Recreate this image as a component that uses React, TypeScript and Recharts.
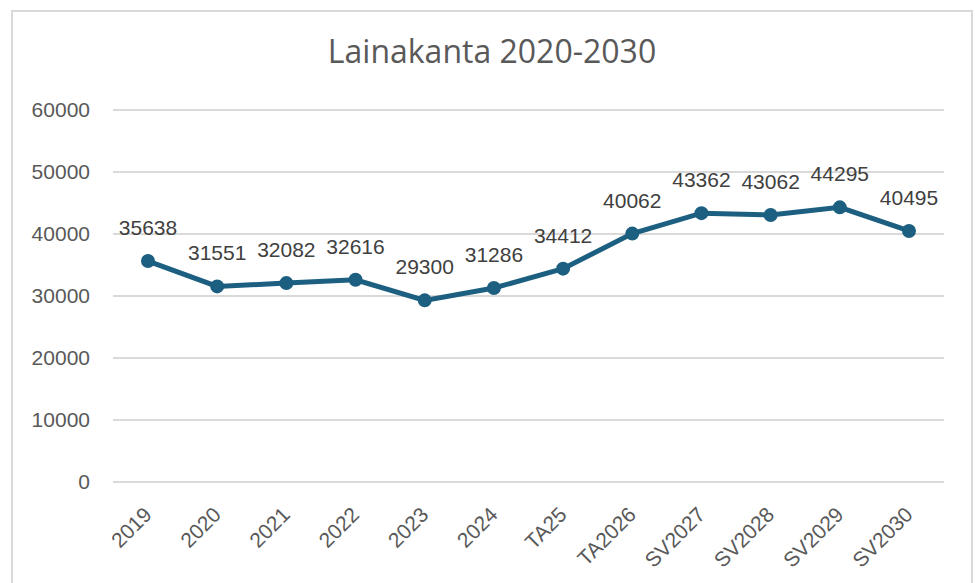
import { LineChart, Line, XAxis, YAxis, CartesianGrid, LabelList } from 'recharts';

const categories = ['2019', '2020', '2021', '2022', '2023', '2024', 'TA25', 'TA2026', 'SV2027', 'SV2028', 'SV2029', 'SV2030'];
const loans = [35638, 31551, 32082, 32616, 29300, 31286, 34412, 40062, 43362, 43062, 44295, 40495];
const yTicks = [0, 10000, 20000, 30000, 40000, 50000, 60000];

const data = categories.map((name, i) => ({ name, value: loans[i] }));

const LINE_COLOR = '#1c5f80';
const FONT = '"Liberation Sans", Arial, sans-serif';

function XTick({ x, y, payload }: any) {
  const tx = x + 5;
  const ty = y + 32;
  return (
    <text
      x={tx}
      y={ty}
      transform={`rotate(-45, ${tx}, ${ty})`}
      textAnchor="end"
      fill="#595959"
      fontSize={21}
      fontFamily={FONT}
    >
      {payload.value}
    </text>
  );
}

function PointLabel({ x, y, value }: any) {
  return (
    <text x={x} y={y - 26} textAnchor="middle" fill="#404040" fontSize={21} fontFamily={FONT}>
      {value}
    </text>
  );
}

export default function App() {
  return (
    <div style={{ position: 'absolute', left: 0, top: 0, width: 975, height: 583, background: '#fff' }}>
      <svg width={975} height={583} style={{ position: 'absolute', left: 0, top: 0 }}>
        <rect x={12} y={11} width={960} height={590} fill="none" stroke="#d9d9d9" strokeWidth={2} />
        <text x={492} y={63} textAnchor="middle" fill="#595959" fontSize={32} fontFamily='"Open Sans", sans-serif'>
          Lainakanta 2020-2030
        </text>
      </svg>
      <div style={{ position: 'absolute', left: 0, top: 0 }}>
        <LineChart width={975} height={583} data={data} margin={{ top: 110, right: 31, bottom: 41, left: 13 }}>
          <CartesianGrid vertical={false} stroke="#d9d9d9" strokeWidth={2} />
          <XAxis
            dataKey="name"
            axisLine={false}
            tickLine={false}
            tickSize={0}
            height={60}
            interval={0}
            padding={{ left: 35, right: 35 }}
            tick={<XTick />}
          />
          <YAxis
            domain={[0, 60000]}
            ticks={yTicks}
            width={100}
            axisLine={false}
            tickLine={false}
            tickSize={0}
            tickMargin={23}
            tick={{ fill: '#595959', fontSize: 21, fontFamily: FONT }}
          />
          <Line
            type="linear"
            dataKey="value"
            stroke={LINE_COLOR}
            strokeWidth={5}
            dot={{ r: 6, fill: LINE_COLOR, stroke: LINE_COLOR, strokeWidth: 2 }}
            isAnimationActive={false}
          >
            <LabelList dataKey="value" content={<PointLabel />} />
          </Line>
        </LineChart>
      </div>
    </div>
  );
}
